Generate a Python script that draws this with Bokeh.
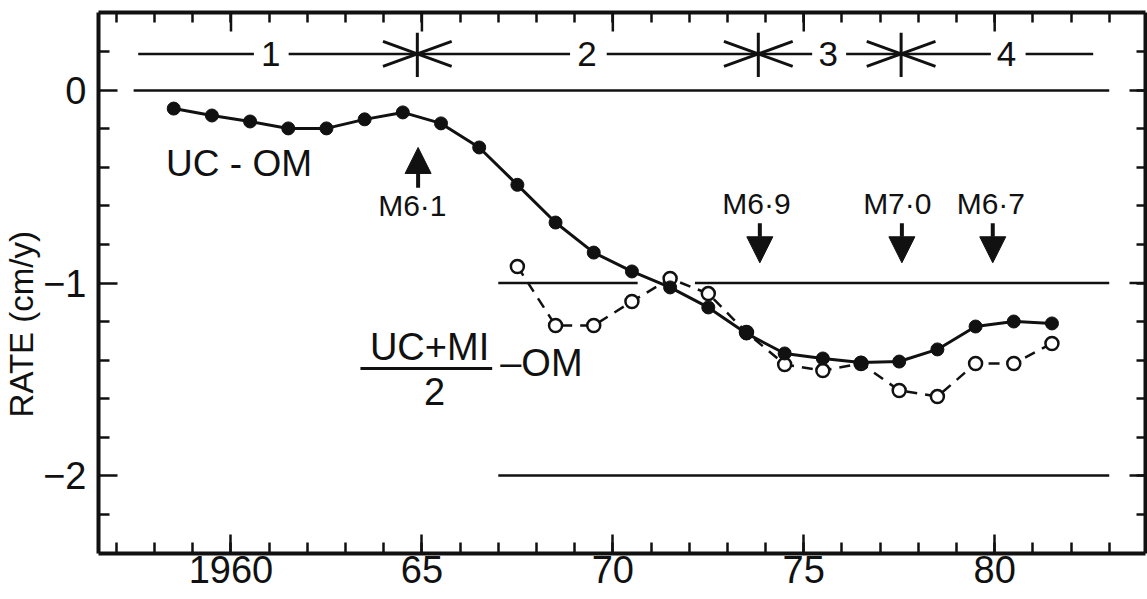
import math
from bokeh.plotting import figure
from bokeh.models import FixedTicker, LinearAxis, Range1d, Arrow, NormalHead
from bokeh.embed import file_html
from bokeh.resources import INLINE
from bokeh.core.properties import value

# ---------------- data ----------------
uc_om_years = [1958.5, 1959.5, 1960.5, 1961.5, 1962.5, 1963.5, 1964.5, 1965.5,
               1966.5, 1967.5, 1968.5, 1969.5, 1970.5, 1971.5, 1972.5, 1973.5,
               1974.5, 1975.5, 1976.5, 1977.5, 1978.5, 1979.5, 1980.5, 1981.5]
uc_om_rate = [-0.094, -0.13, -0.161, -0.197, -0.197, -0.15, -0.114, -0.171,
              -0.296, -0.49, -0.686, -0.842, -0.94, -1.023, -1.127, -1.262,
              -1.366, -1.392, -1.413, -1.408, -1.345, -1.226, -1.2, -1.21]

mix_years = [1967.5, 1968.5, 1969.5, 1970.5, 1971.5, 1972.5, 1973.5, 1974.5,
             1975.5, 1976.5, 1977.5, 1978.5, 1979.5, 1980.5, 1981.5]
mix_rate = [-0.914, -1.221, -1.221, -1.096, -0.977, -1.055, -1.257, -1.423,
            -1.455, -1.418, -1.558, -1.59, -1.418, -1.418, -1.314]

# horizontal reference lines (level, start, end)
ref_level = [0.0, -1.0, -1.0, -2.0]
ref_start = [1957.45, 1967.0, 1972.15, 1967.0]
ref_end = [1983.0, 1970.65, 1983.0, 1983.0]

# phase bar
phase_level = 0.19
phase_seg_start = [1957.57, 1961.51, 1964.88, 1969.84, 1973.81, 1976.11, 1977.55, 1980.81]
phase_seg_end = [1960.60, 1964.88, 1968.88, 1973.81, 1975.22, 1977.55, 1979.90, 1982.58]
phase_bounds = [1964.88, 1973.81, 1977.55]
phase_names = ["1", "2", "3", "4"]
phase_name_x = [1961.04, 1969.32, 1975.64, 1980.31]

# earthquakes
quake_years = [1964.9, 1973.85, 1977.57, 1979.95]
quake_names = ["M6·1", "M6·9", "M7·0", "M6·7"]
quake_label_x = [1964.75, 1973.76, 1977.45, 1979.9]

x_major = [1960, 1965, 1970, 1975, 1980]
x_major_labels = ["1960", "65", "70", "75", "80"]
x_minor = list(range(1957, 1984))
y_major = [0, -1, -2]
y_major_labels = ["0", "−1", "−2"]
y_minor = [0.2, -0.2, -0.4, -0.6, -0.8, -1.2, -1.4, -1.6, -1.8, -2.2]
y_title = "RATE (cm/y)"

X_LO, X_HI = 1956.53, 1983.95
Y_LO, Y_HI = -2.405, 0.405

# ---------------- style ----------------
SANS = "Liberation Sans"
INK = "#111111"

p = figure(width=1147, height=599,
           x_range=Range1d(X_LO, X_HI), y_range=Range1d(Y_LO, Y_HI),
           output_backend="svg", toolbar_location=None,
           min_border_left=97, min_border_right=2, min_border_top=12,
           min_border_bottom=46)
p.grid.visible = False
p.outline_line_color = None
p.background_fill_color = "white"
p.border_fill_color = "white"


def style_axis(ax, major_len, minor_len):
    ax.axis_line_width = 4
    ax.axis_line_color = INK
    ax.major_tick_in = major_len
    ax.major_tick_out = 0
    ax.minor_tick_in = minor_len
    ax.minor_tick_out = 0
    ax.major_tick_line_width = 2.5
    ax.minor_tick_line_width = 2.5
    ax.major_tick_line_color = INK
    ax.minor_tick_line_color = INK


bx = p.xaxis[0]
bx.ticker = FixedTicker(ticks=x_major, minor_ticks=x_minor)
bx.major_label_overrides = dict(zip(x_major, x_major_labels))
bx.major_label_text_font = SANS
bx.major_label_text_font_size = "38px"
bx.major_label_text_color = INK
bx.major_label_standoff = 2
style_axis(bx, 19, 11)

ly = p.yaxis[0]
ly.ticker = FixedTicker(ticks=y_major, minor_ticks=y_minor)
ly.major_label_overrides = dict(zip(y_major, y_major_labels))
ly.major_label_text_font = SANS
ly.major_label_text_font_size = "38px"
ly.major_label_text_color = INK
ly.major_label_standoff = 12
# trailing no-break spaces push the visible title lower, as in the reference
ly.axis_label = y_title + "\u00a0" * 9
ly.axis_label_text_font = SANS
ly.axis_label_text_font_size = "33px"
ly.axis_label_text_font_style = "normal"
ly.axis_label_text_color = INK
ly.axis_label_standoff = 0
style_axis(ly, 19, 11)

# top and right frame axes: minor ticks only (no labels), majors added as rays
tx = LinearAxis(ticker=FixedTicker(ticks=[], minor_ticks=x_minor),
                major_label_standoff=0)
style_axis(tx, 0, 10)
p.add_layout(tx, "above")

ry = LinearAxis(ticker=FixedTicker(ticks=[], minor_ticks=y_minor + y_major),
                major_label_standoff=0)
style_axis(ry, 0, 9)
p.add_layout(ry, "right")

p.ray(x=x_major, y=[Y_HI] * len(x_major), length=19, length_units="screen",
      angle=-math.pi / 2, line_color=INK, line_width=2.5)
p.ray(x=[X_HI] * len(y_major), y=y_major, length=16, length_units="screen",
      angle=math.pi, line_color=INK, line_width=2.5)

# reference lines
p.segment(x0=ref_start, y0=ref_level, x1=ref_end, y1=ref_level,
          line_color=INK, line_width=2.5)

# phase bar
p.segment(x0=phase_seg_start, y0=[phase_level] * len(phase_seg_start),
          x1=phase_seg_end, y1=[phase_level] * len(phase_seg_end),
          line_color=INK, line_width=2.5)
p.segment(x0=phase_bounds, y0=[0.07] * 3, x1=phase_bounds, y1=[0.30] * 3,
          line_color=INK, line_width=3)
hx0, hy0, hx1, hy1 = [], [], [], []
for b in phase_bounds:
    for dx in (-0.9, 0.9):
        for dy in (-0.065, 0.065):
            hx0.append(b + dx)
            hy0.append(phase_level + dy)
            hx1.append(b)
            hy1.append(phase_level)
p.segment(x0=hx0, y0=hy0, x1=hx1, y1=hy1, line_color=INK, line_width=3)
p.text(x=phase_name_x, y=[0.187] * 4, text=phase_names,
       text_font=value(SANS), text_font_size="35px", text_align="center",
       text_baseline="alphabetic", text_color=INK)

# series
p.line(uc_om_years, uc_om_rate, line_color=INK, line_width=3)
p.line(mix_years, mix_rate, line_color=INK, line_width=2.5, line_dash="11 8")
p.scatter(mix_years, mix_rate, size=13, fill_color="white", line_color=INK,
          line_width=2.5)
p.scatter(uc_om_years, uc_om_rate, size=13, fill_color=INK, line_color=INK)

# earthquake arrows
p.add_layout(Arrow(x_start=quake_years[0], y_start=-0.505, x_end=quake_years[0], y_end=-0.296,
                   line_width=4, line_color=INK,
                   end=NormalHead(size=26, fill_color=INK, line_color=INK)))
for qx in quake_years[1:]:
    p.add_layout(Arrow(x_start=qx, y_start=-0.69, x_end=qx, y_end=-0.895,
                       line_width=4, line_color=INK,
                       end=NormalHead(size=26, fill_color=INK, line_color=INK)))
p.text(x=quake_label_x, y=[-0.597, -0.587, -0.587, -0.587], text=quake_names,
       text_font=value(SANS), text_font_size="30px", text_align="center",
       text_baseline="alphabetic", text_color=INK)

# curve labels
p.text(x=[1958.30], y=[-0.379], text=["UC - OM"], text_font=value(SANS),
       text_font_size="37px", text_align="left", text_baseline="alphabetic",
       text_color=INK)
p.text(x=[1965.2], y=[-1.330], text=["UC+MI"], text_font=value(SANS),
       text_font_size="38px", text_align="center", text_baseline="alphabetic",
       text_color=INK)
p.segment(x0=[1963.39], y0=[-1.444], x1=[1966.84], y1=[-1.444],
          line_color=INK, line_width=3)
p.text(x=[1965.33], y=[-1.564], text=["2"], text_font=value(SANS),
       text_font_size="38px", text_align="center", text_baseline="alphabetic",
       text_color=INK)
p.text(x=[1967.05], y=[-1.413], text=["–OM"], text_font=value(SANS),
       text_font_size="38px", text_align="left", text_baseline="alphabetic",
       text_color=INK)

open("out.html", "w").write(file_html(p, INLINE))
